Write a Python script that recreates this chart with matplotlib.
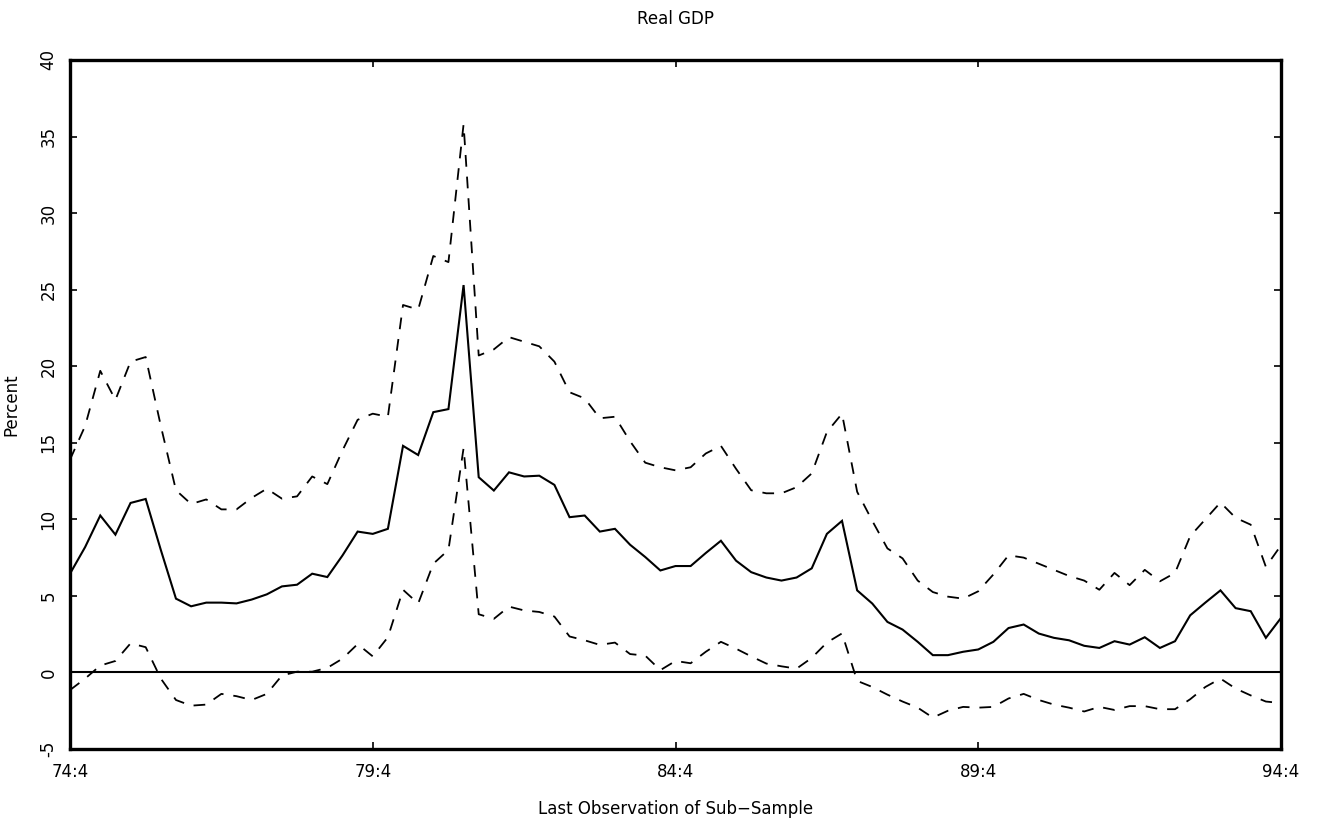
import matplotlib
matplotlib.use("Agg")
import matplotlib.pyplot as plt
import numpy as np

# Quarters from 74:4 to 94:4 (81 sub-sample end points)
tick_positions = [0, 20, 40, 60, 80]
tick_labels = ["74:4", "79:4", "84:4", "89:4", "94:4"]
y_ticks = [-5, 0, 5, 10, 15, 20, 25, 30, 35, 40]

estimate = [6.45, 8.19, 10.25, 9.0, 11.07, 11.33, 8.0, 4.82, 4.32, 4.56,
            4.56, 4.51, 4.76, 5.1, 5.62, 5.73, 6.45, 6.23, 7.64, 9.2,
            9.05, 9.38, 14.8, 14.2, 17.0, 17.2, 25.3, 12.75, 11.88, 13.07,
            12.8, 12.85, 12.25, 10.14, 10.25, 9.2, 9.38, 8.34, 7.54, 6.66,
            6.95, 6.95, 7.8, 8.6, 7.3, 6.55, 6.2, 6.0, 6.2, 6.8,
            9.05, 9.9, 5.36, 4.5, 3.3, 2.8, 2.0, 1.13, 1.13, 1.35,
            1.5, 2.0, 2.9, 3.13, 2.54, 2.26, 2.1, 1.74, 1.6, 2.04,
            1.82, 2.3, 1.6, 2.04, 3.73, 4.56, 5.36, 4.2, 4.0, 2.26,
            3.56]

upper = [13.9, 16.1, 19.7, 17.8, 20.3, 20.6, 16.1, 11.9, 11.0, 11.3,
         10.65, 10.65, 11.4, 12.0, 11.35, 11.5, 12.8, 12.3, 14.5, 16.5,
         16.9, 16.7, 24.0, 23.7, 27.2, 26.8, 35.8, 20.7, 21.1, 21.9,
         21.6, 21.3, 20.3, 18.3, 17.9, 16.6, 16.7, 15.1, 13.7, 13.4,
         13.2, 13.4, 14.3, 14.8, 13.3, 11.9, 11.7, 11.7, 12.1, 13.0,
         15.7, 16.9, 11.8, 9.9, 8.1, 7.45, 6.0, 5.25, 4.95, 4.82,
         5.3, 6.4, 7.65, 7.5, 7.1, 6.7, 6.3, 6.0, 5.4, 6.5,
         5.7, 6.7, 5.95, 6.5, 8.9, 10.0, 11.1, 10.1, 9.65, 6.9,
         8.3]

lower = [-1.15, -0.4, 0.45, 0.75, 1.9, 1.65, -0.4, -1.8, -2.17, -2.1,
         -1.4, -1.55, -1.8, -1.4, -0.2, 0.05, 0.05, 0.3, 0.9, 1.85,
         1.05, 2.3, 5.4, 4.5, 7.1, 8.0, 14.65, 3.8, 3.5, 4.3,
         4.05, 3.95, 3.65, 2.35, 2.1, 1.8, 1.95, 1.2, 1.1, 0.15,
         0.75, 0.6, 1.35, 2.0, 1.55, 1.05, 0.58, 0.4, 0.25, 0.95,
         1.95, 2.55, -0.55, -0.95, -1.45, -1.9, -2.3, -2.95, -2.5, -2.25,
         -2.3, -2.25, -1.7, -1.4, -1.8, -2.1, -2.3, -2.55, -2.25, -2.45,
         -2.2, -2.2, -2.4, -2.4, -1.75, -0.95, -0.4, -1.05, -1.5, -1.9,
         -2.0]

x = np.arange(len(estimate))

fig = plt.figure(figsize=(13.22, 8.25), dpi=100)
ax = fig.add_axes([70 / 1322, 76 / 825, 1211 / 1322, 689 / 825])

ax.axhline(0, color="black", lw=1.5, zorder=1)
ax.plot(x, estimate, color="black", lw=1.5, solid_joinstyle="miter")
ax.plot(x, upper, color="black", lw=1.3, dashes=(6.5, 5.5))
ax.plot(x, lower, color="black", lw=1.3, dashes=(6.5, 5.5))

ax.set_xlim(0, 80)
ax.set_ylim(-5, 40)
ax.set_xticks(tick_positions)
ax.set_xticklabels(tick_labels)
ax.set_yticks(y_ticks)
ax.set_yticklabels([str(v) for v in y_ticks], rotation=90, va="center")

ax.tick_params(axis="both", direction="in", length=5, width=1.2,
               top=True, right=True, labelsize=12)
ax.tick_params(axis="x", pad=10)
ax.tick_params(axis="y", pad=9)

for s in ax.spines.values():
    s.set_linewidth(2.4)

ax.set_title("Real GDP", fontsize=12, pad=26)
ax.set_xlabel("Last Observation of Sub\u2212Sample", fontsize=12, labelpad=14)
ax.set_ylabel("Percent", fontsize=12, labelpad=14)

fig.savefig("out.png", dpi=100)
